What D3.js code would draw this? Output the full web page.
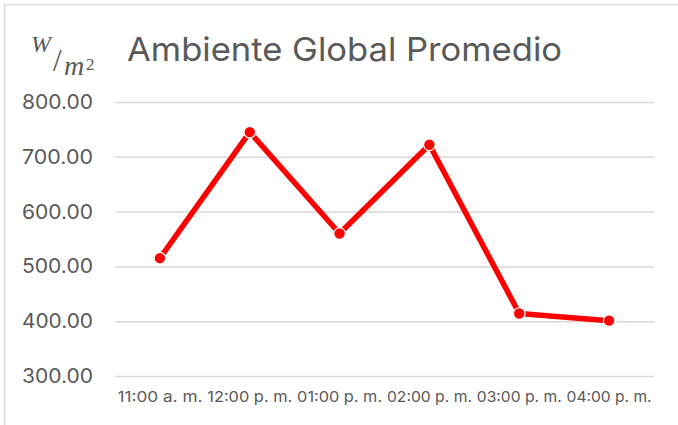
<!DOCTYPE html>
<html><head><meta charset="utf-8">
<script src="https://cdn.jsdelivr.net/npm/d3@7"></script>
<style>
html,body{margin:0;padding:0;background:#fff;}
svg{display:block;}
</style></head>
<body>
<svg id="chart" width="678" height="425"></svg>
<script>
const categories = ["11:00 a. m.", "12:00 p. m.", "01:00 p. m.", "02:00 p. m.", "03:00 p. m.", "04:00 p. m."];
const values = [515, 745, 560, 722, 414, 401];
const yTicks = [300, 400, 500, 600, 700, 800];
const title = "Ambiente Global Promedio";

const W = 678, H = 425;
const margin = {left: 115, right: 24, top: 102, bottom: 49};
const svg = d3.select("#chart");
const textColor = "#595959";
const font = "Inter, 'Open Sans', sans-serif";

// chart border
svg.append("rect").attr("x", 4.5).attr("y", 4.5).attr("width", W + 10).attr("height", H + 10)
  .attr("fill", "#fff").attr("stroke", "#d9d9d9").attr("stroke-width", 1.5);

const x = d3.scaleBand().domain(categories).range([margin.left, W - margin.right]);
const y = d3.scaleLinear().domain([300, 800]).range([H - margin.bottom, margin.top]);

// gridlines + y labels
const yAxis = d3.axisLeft(y).tickValues(yTicks).tickSize(-(W - margin.right - margin.left))
  .tickFormat(d => d3.format(".2f")(d)).tickPadding(22);
const gy = svg.append("g").attr("transform", `translate(${margin.left},0)`).call(yAxis);
gy.select(".domain").remove();
gy.selectAll(".tick line").attr("stroke", "#d9d9d9").attr("stroke-width", 1.5);
gy.selectAll(".tick text").attr("fill", textColor).style("font-family", font).style("font-size", "20px")
  .attr("textLength", 71).attr("lengthAdjust", "spacingAndGlyphs");

const xAxis = d3.axisBottom(x).tickSize(0).tickPadding(15);
const gx = svg.append("g").attr("transform", `translate(0,${H - margin.bottom})`).call(xAxis);
gx.select(".domain").remove();
gx.selectAll(".tick text").attr("fill", textColor).style("font-family", font).style("font-size", "15px")
  .attr("textLength", 85).attr("lengthAdjust", "spacingAndGlyphs");

// line
const line = d3.line().x((d, i) => x(categories[i]) + x.bandwidth() / 2).y(d => y(d));
svg.append("path").datum(values).attr("d", line).attr("fill", "none")
  .attr("stroke", "#ff0000").attr("stroke-width", 5.5).attr("stroke-linejoin", "round");
svg.selectAll("circle.pt").data(values).join("circle").attr("class", "pt")
  .attr("cx", (d, i) => x(categories[i]) + x.bandwidth() / 2).attr("cy", d => y(d))
  .attr("r", 5.8).attr("fill", "#ff0000").attr("stroke", "#fff").attr("stroke-width", 1.2);

// title
svg.append("text").attr("x", 127).attr("y", 61).text(title)
  .attr("fill", textColor).style("font-family", font).style("font-size", "33px")
  .attr("textLength", 435).attr("lengthAdjust", "spacingAndGlyphs");

// unit label W/m²
const serif = "'Liberation Serif', 'DejaVu Serif', serif";
const unit = svg.append("g").attr("fill", textColor).style("font-family", serif);
unit.append("text").attr("x", 31).attr("y", 52).style("font-size", "24px").style("font-style", "italic").text("W");
unit.append("text").attr("x", 53).attr("y", 71).style("font-size", "31px").text("/");
unit.append("text").attr("x", 64).attr("y", 75).style("font-size", "28px").style("font-style", "italic").text("m");
unit.append("text").attr("x", 86).attr("y", 70).style("font-size", "17px").text("2");
</script>
</body></html>
